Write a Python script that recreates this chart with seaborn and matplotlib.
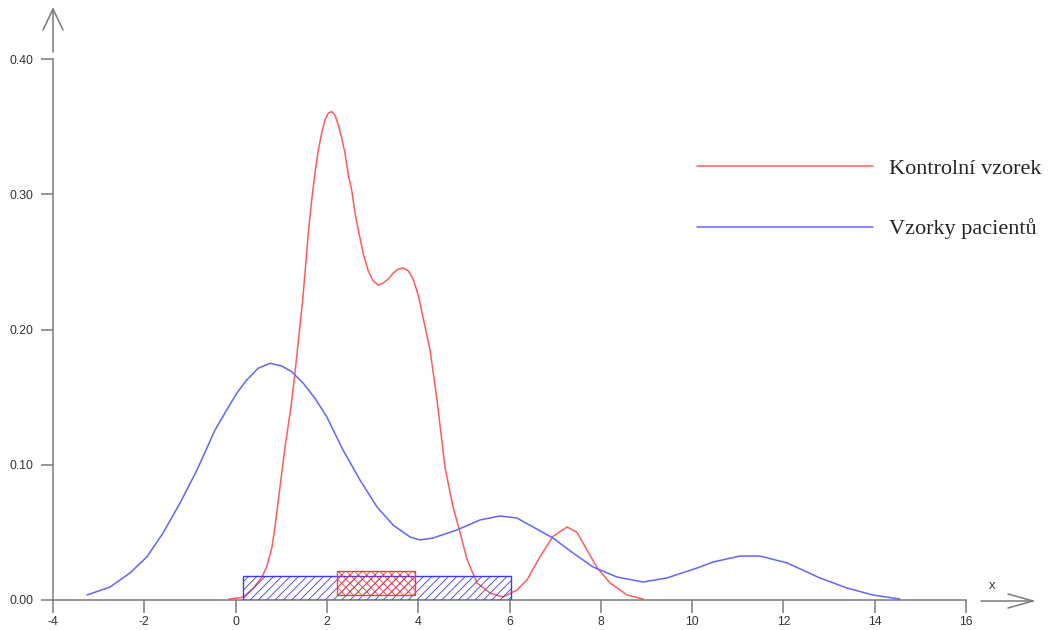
import numpy as np
import pandas as pd
import matplotlib
matplotlib.use("Agg")
import matplotlib.pyplot as plt
from matplotlib.lines import Line2D
import seaborn as sns

# ---- data ----
red_x = [-0.145, 0.162, 0.388, 0.578, 0.681, 0.797, 0.863, 1.010, 1.082, 1.214, 1.301,
         1.470, 1.593, 1.667, 1.739, 1.812, 1.886, 1.958, 2.031, 2.105, 2.177, 2.250, 2.324,
         2.396, 2.469, 2.543, 2.616, 2.688, 2.797, 2.907, 3.016, 3.126, 3.236, 3.345, 3.455,
         3.564, 3.674, 3.783, 3.880, 3.967, 4.024,
         4.258, 4.412, 4.587, 4.762, 4.916, 5.069,
         5.288, 5.573, 5.858, 6.164, 6.383, 6.668, 6.953, 7.259, 7.478, 7.698, 7.917, 8.202,
         8.574, 8.925]
red_y = [0.0007, 0.002, 0.0087, 0.017, 0.0246, 0.039, 0.0542, 0.0937, 0.113, 0.143, 0.168,
         0.2218, 0.2713, 0.2957, 0.3157, 0.3327, 0.3453, 0.3549, 0.3601, 0.3611, 0.3586, 0.3512, 0.3416,
         0.3305, 0.3142, 0.3031, 0.2861, 0.2735, 0.2558, 0.2432, 0.2358, 0.2329, 0.2344, 0.2373, 0.2418,
         0.2447, 0.2455, 0.2433, 0.2381, 0.2292, 0.2218,
         0.185, 0.148, 0.098, 0.069, 0.050, 0.030,
         0.0126, 0.0052, 0.0022, 0.0074, 0.0148, 0.032, 0.047, 0.054, 0.050, 0.037, 0.024, 0.0126,
         0.0037, 0.0007]

blue_x = [-3.255, -2.751, -2.313, -1.941, -1.590, -1.218, -0.846, -0.451, -0.195, 0.024, 0.243,
          0.497, 0.754, 1.010, 1.229, 1.483, 1.739, 1.996, 2.353, 2.725, 3.097, 3.448, 3.820,
          4.039, 4.324, 4.850, 5.354, 5.792, 6.164, 6.515, 6.953, 7.391, 7.829, 8.355, 8.925,
          9.45, 10.173, 10.458, 11.05, 11.49, 12.08, 12.80, 13.39, 13.96, 14.55]
blue_y = [0.0037, 0.0096, 0.020, 0.032, 0.0495, 0.0717, 0.0961, 0.1257, 0.1405, 0.1528, 0.1627,
          0.1714, 0.1750, 0.1730, 0.1688, 0.1602, 0.1491, 0.1355, 0.1109, 0.0887, 0.0688, 0.0555, 0.0466,
          0.0444, 0.0458, 0.0518, 0.0592, 0.0621, 0.0606, 0.054, 0.0458, 0.0348, 0.0244, 0.017, 0.0133,
          0.0163, 0.0244, 0.0281, 0.0325, 0.0325, 0.0274, 0.0163, 0.0089, 0.0037, 0.0007]

series_names = ["Kontrolní vzorek", "Vzorky pacientů"]

# interval boxes: [left, right, bottom, top]
box_blue = [0.162, 6.03, 0.0, 0.0177]
box_red = [2.22, 3.93, 0.0037, 0.0214]

x_ticks = [-4, -2, 0, 2, 4, 6, 8, 10, 12, 14, 16]
y_ticks = [0.0, 0.1, 0.2, 0.3, 0.4]
y_tick_labels = ["0.00", "0.10", "0.20", "0.30", "0.40"]

RED = "#ff5c5c"
BLUE = "#6464ff"
AXC = "#7a7a7a"

df = pd.DataFrame({
    "x": red_x + blue_x,
    "y": red_y + blue_y,
    "series": [series_names[0]] * len(red_x) + [series_names[1]] * len(blue_x),
})

sns.set_theme(style="white")
plt.rcParams["font.family"] = ["Liberation Sans", "DejaVu Sans"]
plt.rcParams["hatch.linewidth"] = 0.6

W, H = 1051, 630
fig = plt.figure(figsize=(W / 100, H / 100), dpi=100)
ax = fig.add_axes([53 / W, 30 / H, 913 / W, 541 / H])

sns.lineplot(data=df, x="x", y="y", hue="series", hue_order=series_names,
             palette=[RED, BLUE], sort=False, estimator=None, linewidth=1.1, ax=ax)

# boxes
ax.bar(box_blue[0], box_blue[3] - box_blue[2], width=box_blue[1] - box_blue[0],
       bottom=box_blue[2], align="edge", facecolor="none", edgecolor="#3a3aff",
       hatch="////", linewidth=1.0, zorder=3)
ax.bar(box_red[0], box_red[3] - box_red[2], width=box_red[1] - box_red[0],
       bottom=box_red[2], align="edge", facecolor="none", edgecolor="#ff3a3a",
       hatch="xxxx", linewidth=1.0, zorder=4)

ax.set_xlim(-4, 16)
ax.set_ylim(0, 0.4)
ax.set_xticks(x_ticks)
ax.set_xticklabels([str(t) for t in x_ticks])
ax.set_yticks(y_ticks)
ax.set_yticklabels(y_tick_labels)
ax.set_xlabel("")
ax.set_ylabel("")

for s in ["top", "right"]:
    ax.spines[s].set_visible(False)
for s in ["left", "bottom"]:
    ax.spines[s].set_color(AXC)
    ax.spines[s].set_linewidth(1.1)
ax.tick_params(axis="both", which="major", direction="out", length=9, width=1.1,
               color=AXC, labelsize=8.8, labelcolor="#333333", bottom=True, left=True)
ax.tick_params(axis="x", pad=2.5)
ax.tick_params(axis="y", pad=5)

# legend
handles = [Line2D([], [], color=RED, lw=1.1), Line2D([], [], color=BLUE, lw=1.1)]
leg = ax.legend(handles, series_names, loc="upper left",
                bbox_to_anchor=(697 / W, 1 - 158 / H), bbox_transform=fig.transFigure,
                frameon=False, borderpad=0, borderaxespad=0, handlelength=7.9,
                handletextpad=0.72, labelspacing=1.8,
                prop={"family": "Liberation Serif", "size": 16})

# axis arrows (figure pixel coords)
def px(x, y):
    return x / W, 1 - y / H

def seg(p0, p1):
    (x0, y0), (x1, y1) = px(*p0), px(*p1)
    fig.add_artist(Line2D([x0, x1], [y0, y1], color=AXC, lw=1.1,
                          transform=fig.transFigure, clip_on=False))

seg((53, 52), (53, 9))
seg((53, 9), (43, 30))
seg((53, 9), (63, 30))
seg((981, 601), (1033, 601))
seg((1033, 601), (1008, 594))
seg((1033, 601), (1008, 608))
fx, fy = px(992, 586)
fig.text(fx, fy, "x", fontsize=9.5, color="#333333", ha="center", va="center")

fig.savefig("out.png", dpi=100)
